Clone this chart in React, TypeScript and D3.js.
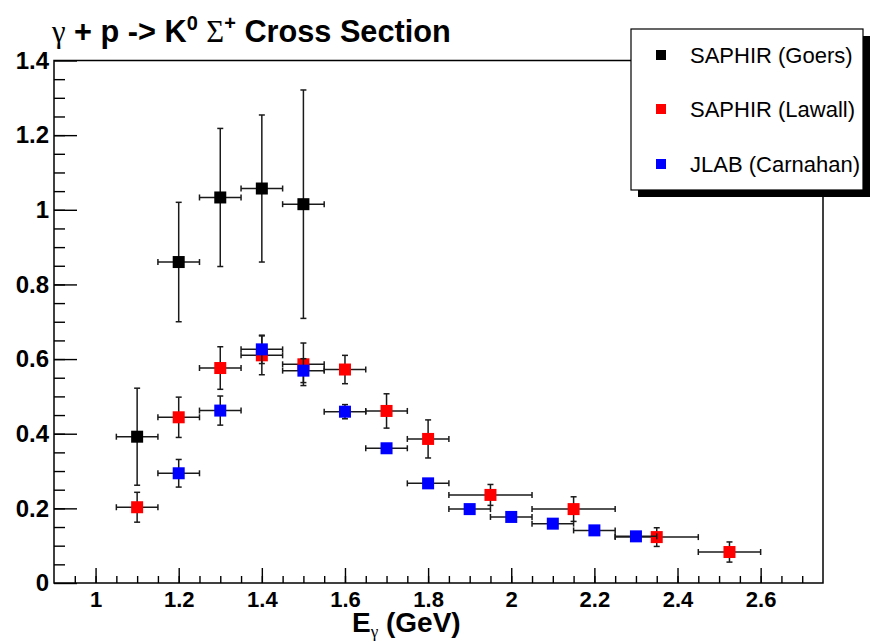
import React, { useEffect, useRef } from 'react';
import * as d3 from 'd3';

// SAPHIR (Goers)
const goersE = [1.1, 1.2, 1.3, 1.4, 1.5];
const goersXS = [0.392, 0.86, 1.033, 1.057, 1.015];
const goersErr = [0.13, 0.16, 0.185, 0.197, 0.306];
const goersEErr = [0.05, 0.05, 0.05, 0.05, 0.05];

// SAPHIR (Lawall)
const lawallE = [1.1, 1.2, 1.3, 1.4, 1.5, 1.6, 1.7, 1.8, 1.95, 2.15, 2.35, 2.525];
const lawallXS = [0.203, 0.444, 0.576, 0.61, 0.586, 0.572, 0.461, 0.386, 0.236, 0.198, 0.123, 0.083];
const lawallErr = [0.04, 0.054, 0.057, 0.052, 0.057, 0.038, 0.046, 0.051, 0.028, 0.033, 0.025, 0.027];
const lawallEErr = [0.05, 0.05, 0.05, 0.05, 0.05, 0.05, 0.05, 0.05, 0.1, 0.1, 0.1, 0.075];

// JLAB (Carnahan)
const carnahanE = [1.2, 1.3, 1.4, 1.5, 1.6, 1.7, 1.8, 1.9, 2.0, 2.1, 2.2, 2.3];
const carnahanXS = [0.294, 0.462, 0.626, 0.569, 0.459, 0.361, 0.267, 0.198, 0.177, 0.159, 0.141, 0.125];
const carnahanErr = [0.037, 0.039, 0.038, 0.032, 0.019, 0.012, 0.005, 0.005, 0.004, 0.004, 0.004, 0.004];
const carnahanEErr = [0.05, 0.05, 0.05, 0.05, 0.05, 0.05, 0.05, 0.05, 0.05, 0.05, 0.05, 0.05];

const legendLabels = ['SAPHIR (Goers)', 'SAPHIR (Lawall)', 'JLAB (Carnahan)'];
const seriesColors = ['#000000', '#ff0000', '#0000ff'];

const xMajorTicks = [1, 1.2, 1.4, 1.6, 1.8, 2, 2.2, 2.4, 2.6];
const yMajorTicks = [0, 0.2, 0.4, 0.6, 0.8, 1, 1.2, 1.4];

const SANS = '"Liberation Sans", Arial, Helvetica, sans-serif';
const SERIF = '"Liberation Serif", "Times New Roman", serif';

function drawChart(node: SVGSVGElement) {
  const svg = d3.select(node);
  svg.selectAll('*').remove();

  const left = 54, right = 823, top = 60.5, bottom = 583;

  const x = d3.scaleLinear().domain([0.9, 2.75]).range([left, right]);
  const y = d3.scaleLinear().domain([0, 1.4]).range([bottom, top]);

  svg.append('rect').attr('width', 873).attr('height', 643).attr('fill', '#fff');

  // minor ticks
  const xMinor = d3.range(19, 55).map(i => i * 0.05);
  const yMinor = d3.range(1, 28).map(i => i * 0.05);

  svg.append('g')
    .attr('transform', `translate(0,${bottom})`)
    .call(d3.axisBottom(x).tickValues(xMinor).tickSizeInner(-7).tickSizeOuter(0).tickFormat(() => ''))
    .call(g => g.select('.domain').remove());

  svg.append('g')
    .attr('transform', `translate(${left},0)`)
    .call(d3.axisLeft(y).tickValues(yMinor).tickSizeInner(-11).tickSizeOuter(0).tickFormat(() => ''))
    .call(g => g.select('.domain').remove());

  // major ticks + labels
  const xAxis = svg.append('g')
    .attr('transform', `translate(0,${bottom})`)
    .call(d3.axisBottom(x).tickValues(xMajorTicks).tickSizeInner(-15).tickSizeOuter(0)
      .tickPadding(8).tickFormat(d3.format('~g')))
    .call(g => g.select('.domain').remove());
  xAxis.selectAll('text')
    .attr('fill', '#000')
    .style('font-family', SANS)
    .style('font-weight', 'bold')
    .style('font-size', '22px');

  const yAxis = svg.append('g')
    .attr('transform', `translate(${left},0)`)
    .call(d3.axisLeft(y).tickValues(yMajorTicks).tickSizeInner(-23).tickSizeOuter(0)
      .tickPadding(5).tickFormat(d3.format('~g')))
    .call(g => g.select('.domain').remove());
  yAxis.selectAll('text')
    .attr('fill', '#000')
    .style('font-family', SANS)
    .style('font-weight', 'bold')
    .style('font-size', '24px');

  svg.selectAll('.tick line').attr('stroke', '#000').attr('stroke-width', 1.4);

  // frame
  svg.append('rect')
    .attr('x', left).attr('y', top)
    .attr('width', right - left).attr('height', bottom - top)
    .attr('fill', 'none').attr('stroke', '#000').attr('stroke-width', 1.5);

  // data
  const series = [
    { E: goersE, v: goersXS, err: goersErr, eErr: goersEErr },
    { E: lawallE, v: lawallXS, err: lawallErr, eErr: lawallEErr },
    { E: carnahanE, v: carnahanXS, err: carnahanErr, eErr: carnahanEErr },
  ];
  const cap = 3;
  const msize = 12;

  series.forEach((s, si) => {
    const pts = s.E.map((e, i) => ({ e, v: s.v[i], dv: s.err[i], de: s.eErr[i] }));
    const g = svg.append('g').attr('stroke', '#1a1a1a').attr('stroke-width', 1.5);
    pts.forEach(p => {
      const cx = x(p.e), cy = y(p.v);
      const y0 = y(p.v - p.dv), y1 = y(p.v + p.dv);
      const x0 = x(p.e - p.de), x1 = x(p.e + p.de);
      g.append('line').attr('x1', cx).attr('x2', cx).attr('y1', y0).attr('y2', y1);
      g.append('line').attr('x1', cx - cap).attr('x2', cx + cap).attr('y1', y0).attr('y2', y0);
      g.append('line').attr('x1', cx - cap).attr('x2', cx + cap).attr('y1', y1).attr('y2', y1);
      g.append('line').attr('x1', x0).attr('x2', x1).attr('y1', cy).attr('y2', cy);
      g.append('line').attr('x1', x0).attr('x2', x0).attr('y1', cy - cap).attr('y2', cy + cap);
      g.append('line').attr('x1', x1).attr('x2', x1).attr('y1', cy - cap).attr('y2', cy + cap);
    });
    svg.append('g').selectAll('rect')
      .data(pts)
      .enter().append('rect')
      .attr('x', d => x(d.e) - msize / 2)
      .attr('y', d => y(d.v) - msize / 2)
      .attr('width', msize)
      .attr('height', msize)
      .attr('fill', seriesColors[si]);
  });

  // title
  const title = svg.append('text')
    .attr('x', 52).attr('y', 42)
    .attr('fill', '#000')
    .style('font-family', SANS)
    .style('font-weight', 'bold')
    .style('font-size', '30.7px');
  title.append('tspan').style('font-family', SERIF).style('font-weight', 'normal').text('γ');
  title.append('tspan').text(' + p -> K');
  title.append('tspan').attr('dy', -12).style('font-size', '20px').text('0');
  title.append('tspan').attr('dy', 12).text(' ');
  title.append('tspan').style('font-family', SERIF).style('font-weight', 'normal').text('Σ');
  title.append('tspan').attr('dy', -12).style('font-size', '20px').text('+');
  title.append('tspan').attr('dy', 12).text(' Cross Section');

  // x axis title
  const xt = svg.append('text')
    .attr('x', 352).attr('y', 632)
    .attr('fill', '#000')
    .style('font-family', SANS)
    .style('font-weight', 'bold')
    .style('font-size', '28px');
  xt.append('tspan').text('E');
  xt.append('tspan').attr('dy', 5).style('font-family', SERIF).style('font-weight', 'normal')
    .style('font-size', '17px').text('γ');
  xt.append('tspan').attr('dy', -5).text(' (GeV)');

  // legend
  const lx = 631, ly = 29, lw = 232, lh = 161;
  svg.append('rect').attr('x', lx + 7).attr('y', ly + 7).attr('width', lw).attr('height', lh).attr('fill', '#000');
  svg.append('rect').attr('x', lx).attr('y', ly).attr('width', lw).attr('height', lh)
    .attr('fill', '#fff').attr('stroke', '#000').attr('stroke-width', 1.2);
  const rowY = [55, 109, 164];
  legendLabels.forEach((label, i) => {
    svg.append('rect')
      .attr('x', 661 - 5).attr('y', rowY[i] - 5)
      .attr('width', 10).attr('height', 10)
      .attr('fill', seriesColors[i]);
    svg.append('text')
      .attr('x', 690).attr('y', rowY[i])
      .attr('dy', '0.35em')
      .attr('fill', '#000')
      .style('font-family', SANS)
      .style('font-size', '22px')
      .text(label);
  });
}

export default function App() {
  const ref = useRef<SVGSVGElement>(null);
  useEffect(() => {
    document.body.style.margin = '0';
    if (ref.current) drawChart(ref.current);
  }, []);
  return <svg ref={ref} width={873} height={643} style={{ display: 'block' }} />;
}
